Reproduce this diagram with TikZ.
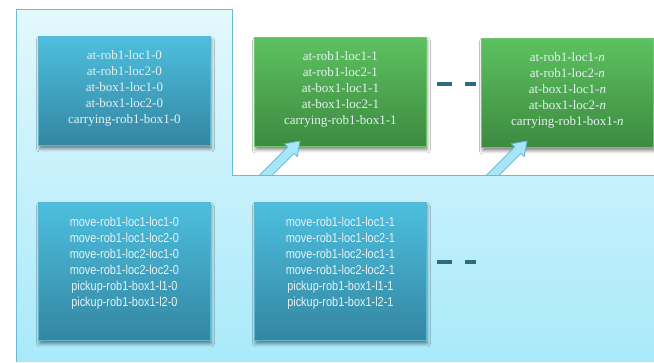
\documentclass[tikz,border=0pt]{standalone}
\usepackage{fontspec}
\setmainfont{Liberation Serif}
\newfontfamily\condfont[FakeStretch=0.84]{Liberation Sans}
\usetikzlibrary{calc,shadows.blur}
\definecolor{regtop}{HTML}{E2F8FD}
\definecolor{regbot}{HTML}{A9E9FA}
\definecolor{regline}{HTML}{6BB9D2}
\definecolor{bluetop}{HTML}{4DBFDE}
\definecolor{bluebot}{HTML}{3486A2}
\definecolor{blueline}{HTML}{5BB6D2}
\definecolor{greentop}{HTML}{5DC160}
\definecolor{greenbot}{HTML}{3D8A40}
\definecolor{greenline}{HTML}{6FC672}
\definecolor{dashcol}{HTML}{2B6C84}
\definecolor{arrfill}{HTML}{A6E6F8}
\definecolor{arrline}{HTML}{5BB5D0}
\definecolor{txtcol}{HTML}{E6F3F5}
\tikzset{
  boxbase/.style={rectangle, anchor=north west, inner sep=0pt,
    blur shadow={shadow xshift=1pt, shadow yshift=-3.5pt, shadow blur radius=3pt, shadow opacity=45}},
  bluebox/.style={boxbase, top color=bluetop, bottom color=bluebot, draw=blueline, line width=0.8pt},
  greenbox/.style={boxbase, top color=greentop, bottom color=greenbot, draw=greenline, line width=0.8pt},
  toptext/.style={anchor=north, align=center, text=txtcol, font=\fontsize{13}{16}\selectfont, inner sep=0pt},
  bottext/.style={anchor=north, align=center, text=txtcol, font=\condfont\fontsize{13}{16}\selectfont, inner sep=0pt},
  dashline/.style={draw=dashcol, line width=3.6pt},
  blockarrow/.style={fill=arrfill, draw=arrline, line width=0.8pt, line join=miter},
}
\begin{document}
\begin{tikzpicture}[x=1pt,y=-1pt]
\useasboundingbox (0,0) rectangle (654,362);
\fill[white] (0,0) rectangle (654,362);
% region
\path[top color=regtop, bottom color=regbot] (16,9) -- (232,9) -- (232,175) -- (654,175) -- (654,362) -- (16,362) -- cycle;
\draw[regline, line width=0.9pt] (16,362) -- (16,9) -- (232,9) -- (232,175) -- (654,175);
% boxes
\node[bluebox, minimum width=172pt, minimum height=109pt] (s0) at (38,36) {};
\node[greenbox, minimum width=172pt, minimum height=109pt] (s1) at (254,37) {};
\node[greenbox, minimum width=172pt, minimum height=109pt] (sn) at (481,38) {};
\node[bluebox, minimum width=172pt, minimum height=138pt] (a0) at (38,202) {};
\node[bluebox, minimum width=172pt, minimum height=138pt] (a1) at (254,202) {};
% texts
\node[toptext] (s0t) at ($(s0.north)+(0,14)$) {at-rob1-loc1-0\\at-rob1-loc2-0\\at-box1-loc1-0\\at-box1-loc2-0\\carrying-rob1-box1-0};
\node[toptext] (s1t) at ($(s1.north)+(0,14)$) {at-rob1-loc1-1\\at-rob1-loc2-1\\at-box1-loc1-1\\at-box1-loc2-1\\carrying-rob1-box1-1};
\node[toptext] (snt) at ($(sn.north)+(0,14)$) {at-rob1-loc1-\textit{n}\\at-rob1-loc2-\textit{n}\\at-box1-loc1-\textit{n}\\at-box1-loc2-\textit{n}\\carrying-rob1-box1-\textit{n}};
\node[bottext] (a0t) at ($(a0.north)+(0,14.5)$) {move-rob1-loc1-loc1-0\\move-rob1-loc1-loc2-0\\move-rob1-loc2-loc1-0\\move-rob1-loc2-loc2-0\\pickup-rob1-box1-l1-0\\pickup-rob1-box1-l2-0};
\node[bottext] (a1t) at ($(a1.north)+(0,14.5)$) {move-rob1-loc1-loc1-1\\move-rob1-loc1-loc2-1\\move-rob1-loc2-loc1-1\\move-rob1-loc2-loc2-1\\pickup-rob1-box1-l1-1\\pickup-rob1-box1-l2-1};
% dashes
\coordinate (d1a) at (437,84); \coordinate (d1b) at (452,84);
\coordinate (d1c) at (465,84); \coordinate (d1d) at (476,84);
\draw[dashline] (d1a) -- (d1b) (d1c) -- (d1d);
\coordinate (d2a) at (437,262); \coordinate (d2b) at (452,262);
\coordinate (d2c) at (465,262); \coordinate (d2d) at (476,262);
\draw[dashline] (d2a) -- (d2b) (d2c) -- (d2d);
% arrows
\coordinate (tip1) at (300,141);
\coordinate (tip2) at (527,141);
\begin{scope}
\clip (0,0) rectangle (654,175);
\foreach \t in {tip1,tip2}{
  \draw[blockarrow] (\t) -- ($(\t)+(-2.8,15.6)$) -- ($(\t)+(-6,12.4)$) -- ($(\t)+(-39.2,45.6)$)
    -- ($(\t)+(-45.6,39.2)$) -- ($(\t)+(-12.4,6)$) -- ($(\t)+(-15.6,2.8)$) -- cycle;
}
\end{scope}
\draw[regline, line width=0.9pt] (232,175) -- (654,175);
\end{tikzpicture}
\end{document}
